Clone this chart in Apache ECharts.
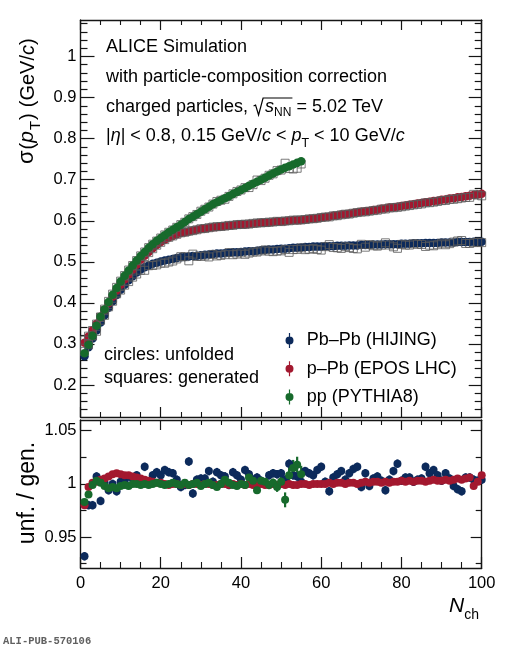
<!DOCTYPE html>
<html>
<head>
<meta charset="utf-8">
<script src="https://cdn.jsdelivr.net/npm/echarts@6/dist/echarts.min.js"></script>
<style>
  html, body { margin: 0; padding: 0; background: #fff; }
  #main { width: 506px; height: 650px; }
</style>
</head>
<body>
<div id="main"></div>
<script>
// sigma(pT) vs Nch, unfolded values (bin n = index + 1)
const pbpbUnf = [
  0.270, 0.292, 0.313, 0.333, 0.352, 0.370, 0.388, 0.404, 0.419, 0.432,
  0.444, 0.455, 0.465, 0.474, 0.481, 0.487, 0.491, 0.495, 0.498, 0.501,
  0.503, 0.505, 0.507, 0.509, 0.511, 0.512, 0.513, 0.514, 0.515, 0.516,
  0.517, 0.518, 0.519, 0.520, 0.520, 0.521, 0.522, 0.523, 0.523, 0.524,
  0.525, 0.526, 0.526, 0.527, 0.528, 0.529, 0.530, 0.530, 0.531, 0.532,
  0.532, 0.533, 0.534, 0.534, 0.535, 0.536, 0.536, 0.537, 0.537, 0.537,
  0.538, 0.538, 0.538, 0.539, 0.539, 0.539, 0.540, 0.540, 0.540, 0.541,
  0.541, 0.541, 0.542, 0.542, 0.542, 0.543, 0.543, 0.543, 0.543, 0.544,
  0.544, 0.544, 0.545, 0.545, 0.545, 0.546, 0.546, 0.546, 0.546, 0.547,
  0.547, 0.547, 0.547, 0.548, 0.548, 0.548, 0.548, 0.549, 0.549, 0.549
];
const ppbUnf = [
  0.303, 0.318, 0.333, 0.349, 0.366, 0.383, 0.399, 0.415, 0.430, 0.444,
  0.457, 0.469, 0.481, 0.493, 0.505, 0.515, 0.524, 0.533, 0.541, 0.548,
  0.554, 0.559, 0.563, 0.567, 0.570, 0.572, 0.574, 0.576, 0.578, 0.580,
  0.581, 0.583, 0.584, 0.585, 0.586, 0.587, 0.588, 0.589, 0.590, 0.591,
  0.591, 0.592, 0.593, 0.594, 0.595, 0.595, 0.596, 0.597, 0.598, 0.598,
  0.599, 0.600, 0.601, 0.601, 0.602, 0.603, 0.604, 0.605, 0.606, 0.608,
  0.609, 0.610, 0.612, 0.613, 0.615, 0.616, 0.617, 0.619, 0.620, 0.622,
  0.623, 0.624, 0.626, 0.627, 0.629, 0.630, 0.632, 0.633, 0.634, 0.636,
  0.637, 0.639, 0.640, 0.642, 0.643, 0.645, 0.646, 0.648, 0.649, 0.651,
  0.652, 0.654, 0.655, 0.657, 0.658, 0.660, 0.661, 0.663, 0.664, 0.666
];
const ppUnf = [
  0.277, 0.298, 0.320, 0.344, 0.366, 0.384, 0.402, 0.420, 0.436, 0.452,
  0.466, 0.479, 0.491, 0.503, 0.514, 0.524, 0.534, 0.543, 0.551, 0.558,
  0.565, 0.572, 0.578, 0.584, 0.590, 0.597, 0.604, 0.610, 0.616, 0.622,
  0.628, 0.634, 0.640, 0.645, 0.650, 0.655, 0.660, 0.665, 0.670, 0.675,
  0.680, 0.685, 0.690, 0.695, 0.700, 0.705, 0.710, 0.715, 0.720, 0.725,
  0.729, 0.733, 0.737, 0.741, 0.745
];

// unfolded / generated
const pbpbRatio = [
  0.932, 0.980, 0.980, 1.007, 0.984, 1.001, 0.994, 1.000, 0.993, 1.002,
  1.002, 1.007, 1.005, 1.008, 1.003, 1.016, 1.001, 1.008, 1.011, 1.008,
  1.013, 1.011, 1.010, 1.004, 0.997, 0.999, 1.021, 0.991, 1.004, 1.005,
  1.005, 1.012, 1.002, 1.011, 1.008, 1.007, 0.999, 1.011, 1.008, 1.004,
  1.013, 1.009, 1.004, 1.006, 1.003, 1.000, 1.008, 1.010, 1.009, 1.010,
  1.004, 1.019, 1.008, 1.007, 1.002, 1.012, 1.010, 1.008, 1.013, 1.016,
  1.002, 0.993, 1.006, 1.009, 1.012, 1.004, 1.010, 1.014, 1.016, 0.997,
  1.010, 0.998, 1.005, 1.007, 1.003, 0.994, 1.004, 1.012, 1.019, 1.003,
  1.006, 1.006, 1.002, 1.004, 1.005, 1.016, 1.010, 1.013, 1.008, 1.003,
  1.010, 1.005, 0.998, 0.995, 0.993, 1.006, 1.006, 1.004, 1.003, 1.004
];
const ppbRatio = [
  0.980, 0.997, 1.001, 1.002, 1.004, 1.005, 1.007, 1.009, 1.010, 1.009,
  1.008, 1.008, 1.007, 1.006, 1.005, 1.004, 1.003, 1.002, 1.001, 1.001,
  1.000, 0.999, 1.000, 1.000, 0.999, 1.000, 0.999, 1.000, 1.000, 0.999,
  1.000, 1.000, 0.999, 0.999, 1.000, 1.000, 0.999, 1.000, 0.999, 1.000,
  0.999, 1.000, 0.999, 0.999, 1.000, 0.999, 0.999, 1.000, 0.999, 1.000,
  0.999, 1.000, 0.999, 0.999, 1.000, 1.000, 0.999, 1.000, 1.000, 1.000,
  1.000, 1.001, 1.000, 1.001, 1.001, 1.000, 1.001, 1.001, 1.000, 1.001,
  1.002, 1.001, 1.002, 1.002, 1.001, 1.002, 1.001, 1.002, 1.002, 1.003,
  1.002, 1.003, 1.002, 1.003, 1.003, 1.002, 1.003, 1.004, 1.003, 1.003,
  1.004, 1.003, 1.004, 1.005, 1.004, 1.005, 1.006, 0.998, 1.002, 1.008
];
const ppRatio = [
  0.983, 0.990, 0.999, 1.003, 1.001, 0.998, 0.996, 0.997, 0.996, 0.998,
  0.999, 0.998, 1.000, 1.000, 0.999, 1.000, 0.999, 1.000, 1.001, 1.000,
  0.999, 1.000, 1.001, 1.000, 0.999, 1.001, 0.999, 1.000, 1.001, 0.998,
  1.000, 1.001, 0.999, 0.997, 1.000, 1.004, 1.001, 0.999, 0.998, 1.000,
  0.999, 1.006, 1.003, 0.994, 1.003, 1.002, 0.999, 1.001, 0.997, 1.002,
  0.985, 1.008, 1.015, 1.018, 1.009
];
// ratio uncertainties
const pbpbErr = 0.004;
const ppbErr = 0.0015;
const ppErr = [
  0.0015, 0.0015, 0.0015, 0.0015, 0.0015, 0.0015, 0.0015, 0.0015, 0.0015, 0.0015,
  0.0015, 0.0015, 0.0015, 0.0015, 0.0015, 0.0015, 0.0015, 0.0015, 0.0015, 0.0015,
  0.0015, 0.0015, 0.0015, 0.0015, 0.0015, 0.0015, 0.0015, 0.0015, 0.0015, 0.0015,
  0.0015, 0.0015, 0.0015, 0.0015, 0.0020, 0.0020, 0.0020, 0.0025, 0.0025, 0.0025,
  0.0030, 0.0030, 0.0030, 0.0035, 0.0035, 0.0035, 0.0040, 0.0040, 0.0045, 0.0050,
  0.0070, 0.0070, 0.0075, 0.0075, 0.0080
];

const names = ['Pb\u2013Pb (HIJING)', 'p\u2013Pb (EPOS LHC)', 'pp (PYTHIA8)'];
const xTicks = [0, 20, 40, 60, 80, 100];
const topTicks = [0.2, 0.3, 0.4, 0.5, 0.6, 0.7, 0.8, 0.9, 1.0];
const ratioTicks = [0.95, 1.0, 1.05];

const COL = ['#0c2a5b', '#a3182f', '#176a2c'];
const FAM = '"Liberation Sans", Arial, sans-serif';
const INK = '#151515';

// minor tick positions
const topMinor = [];
for (let k = 7; k <= 54; k++) if (k % 5 !== 0) topMinor.push(k * 0.02);
const ratioMinor = [0.925, 0.975, 1.025];

const chart = echarts.init(document.getElementById('main'), null, { renderer: 'canvas' });

function fmt(v) { return String(Math.round(v * 1000) / 1000); }

function xAx(grid, pos, major, minor, labels) {
  return {
    type: 'value', gridIndex: grid, min: xTicks[0], max: xTicks[xTicks.length - 1], interval: 20, position: pos,
    axisLine: { show: true, lineStyle: { color: INK, width: 1.4 } },
    axisTick: { show: true, inside: true, length: major, lineStyle: { color: INK, width: 1.2 } },
    minorTick: { show: true, splitNumber: 4, length: minor, lineStyle: { color: INK, width: 1.1 } },
    axisLabel: labels ? { show: true, margin: 7, fontFamily: FAM, fontSize: 16.5, color: '#000', formatter: fmt } : { show: false },
    splitLine: { show: false }, minorSplitLine: { show: false }
  };
}
function yAx(grid, min, max, pos, ticks, len, labels, line) {
  return {
    type: 'value', gridIndex: grid, min: min, max: max, position: pos,
    axisLine: { show: line, lineStyle: { color: INK, width: 1.4 } },
    axisTick: { show: true, inside: true, length: len, customValues: ticks, lineStyle: { color: INK, width: 1.2 } },
    axisLabel: labels ? { show: true, customValues: ticks, margin: 4, fontFamily: FAM, fontSize: 16.5, color: '#000', formatter: fmt } : { show: false },
    splitLine: { show: false }
  };
}

function pts(vals) { return vals.map((v, i) => [i + 1, v]); }
function gen(unf, ratio) { return unf.map((v, i) => [i + 1, v / ratio[i]]); }
function bars(ratio, err) {
  return ratio.map((v, i) => {
    const e = Array.isArray(err) ? err[i] : err;
    return [i + 1, v - e, v + e];
  });
}
function errRender(color) {
  return function (params, api) {
    const a = api.coord([api.value(0), api.value(1)]);
    const b = api.coord([api.value(0), api.value(2)]);
    return { type: 'line', shape: { x1: a[0], y1: a[1], x2: b[0], y2: b[1] }, style: { stroke: color, lineWidth: 2.2 } };
  };
}

function unfSeries(k, vals) {
  return { name: names[k], type: 'scatter', xAxisIndex: 0, yAxisIndex: 0, data: pts(vals),
    symbol: 'circle', symbolSize: 8.5, itemStyle: { color: COL[k], opacity: 1 } };
}
function genSeries(k, unf, ratio) {
  return { name: names[k] + ' gen', type: 'scatter', xAxisIndex: 0, yAxisIndex: 0, data: gen(unf, ratio),
    symbol: 'rect', symbolSize: 8, itemStyle: { color: 'rgba(0,0,0,0)', borderColor: '#5a5a5a', borderWidth: 1 } };
}
function ratioSeries(k, ratio, err) {
  return [
    { name: names[k], type: 'custom', xAxisIndex: 2, yAxisIndex: 4, data: bars(ratio, err),
      encode: { x: 0, y: [1, 2] }, renderItem: errRender(COL[k]) },
    { name: names[k], type: 'scatter', xAxisIndex: 2, yAxisIndex: 4, data: pts(ratio),
      symbol: 'circle', symbolSize: 8, itemStyle: { color: COL[k], opacity: 1 } }
  ];
}

// text runs with italics / subscripts
const meas = document.createElement('canvas').getContext('2d');
function run(parts, x0, base, size, rot) {
  let x = 0;
  const kids = [];
  const xs = [];
  parts.forEach(p => {
    if (p.gap) { xs.push(x); x += p.gap; return; }
    const fs = p.s || size;
    const font = (p.i ? 'italic ' : '') + (p.b ? 'bold ' : '') + fs + 'px ' + (p.f || FAM);
    meas.font = font;
    xs.push(x);
    kids.push({ type: 'text', x: x, y: (p.dy || 0) - fs * 0.35,
      style: { text: p.t, font: font, fill: p.c || '#000', align: 'left', verticalAlign: 'middle' } });
    x += meas.measureText(p.t).width + (p.after || 0);
  });
  xs.push(x);
  return { el: { type: 'group', x: x0, y: base, rotation: rot || 0, children: kids }, xs: xs, width: x };
}

const TS = 18;
const l1 = run([{ t: 'ALICE Simulation' }], 106, 53, TS);
const l2 = run([{ t: 'with particle-composition correction' }], 106, 83, TS);
const l3 = run([{ t: 'charged particles, ' }, { gap: 12 }, { t: 's', i: 1 }, { t: 'NN', s: 12, dy: 4 },
  { t: ' = 5.02 TeV' }], 106, 113, TS);
const l4 = run([{ t: '|' }, { t: '\u03b7', i: 1 }, { t: '| < 0.8, 0.15 GeV/' }, { t: 'c', i: 1 }, { t: ' < ' },
  { t: 'p', i: 1 }, { t: 'T', s: 12.5, dy: 6 }, { t: ' < 10 GeV/' }, { t: 'c', i: 1 }], 106, 142, TS);
const c1 = run([{ t: 'circles: unfolded' }], 104, 361, TS);
const c2 = run([{ t: 'squares: generated' }], 104, 384, TS);

// radical over s_NN
const rx = 106 + l3.xs[1];
const rEnd = 106 + l3.xs[4] + 1;
const radical = { type: 'polyline', shape: { points: [[rx + 0.5, 106], [rx + 2.5, 105], [rx + 5.5, 115], [rx + 10, 98], [rEnd, 98]] },
  style: { stroke: '#000', lineWidth: 1.2, fill: null } };

const yTitle = run([{ t: '\u03c3', s: 22, after: 1 }, { t: '(' }, { t: 'p', i: 1, s: 21, after: 1 },
  { t: 'T', s: 15, dy: 6, after: 1 }, { t: ')', after: 6 }, { t: '(GeV/' }, { t: 'c', i: 1 }, { t: ')' }],
  35, 164, 20, Math.PI / 2);
const rTitleW = run([{ t: 'unf. / gen.' }], 0, 0, 23).width;
const rTitle = run([{ t: 'unf. / gen.' }], 36, 493 + rTitleW / 2, 23, Math.PI / 2);
const xTitle = run([{ t: 'N', i: 1, s: 21 }, { t: 'ch', s: 14, dy: 6 }], 449, 614, 21);
const stamp = run([{ t: 'ALI-PUB-570106', b: 1, s: 10.5, f: '"Liberation Mono", "DejaVu Sans Mono", monospace', c: '#606060' }], 3, 645, 10.5);

const legendIcon = 'path://M3.4,0H4.6V15H3.4Z M0,7.5A4,4,0,1,1,8,7.5A4,4,0,1,1,0,7.5Z';

chart.setOption({
  animation: false,
  backgroundColor: '#fff',
  grid: [
    { left: 80.5, right: 24.3, top: 20, height: 397 },
    { left: 80.5, right: 24.3, top: 420, height: 148 }
  ],
  xAxis: [
    xAx(0, 'bottom', 10, 5, false),
    xAx(0, 'top', 10, 5, false),
    xAx(1, 'bottom', 11, 6, true),
    xAx(1, 'top', 10, 5, false)
  ],
  yAxis: [
    yAx(0, 0.122, 1.089, 'left', topTicks, 14, true, true),
    yAx(0, 0.122, 1.089, 'left', topMinor, 7, false, false),
    yAx(0, 0.122, 1.089, 'right', topTicks, 13, false, true),
    yAx(0, 0.122, 1.089, 'right', topMinor, 7, false, false),
    yAx(1, 0.921, 1.06, 'left', ratioTicks, 11, true, true),
    yAx(1, 0.921, 1.06, 'left', ratioMinor, 6, false, false),
    yAx(1, 0.921, 1.06, 'right', ratioTicks, 11, false, true),
    yAx(1, 0.921, 1.06, 'right', ratioMinor, 6, false, false)
  ],
  legend: {
    data: names, orient: 'vertical', left: 280.5, top: 326.5, itemWidth: 24.6, itemHeight: 15, itemGap: 10.2,
    icon: legendIcon, symbolKeepAspect: true, selectedMode: false,
    textStyle: { fontFamily: FAM, fontSize: TS, color: '#000' }
  },
  series: [
    unfSeries(0, pbpbUnf), genSeries(0, pbpbUnf, pbpbRatio),
    unfSeries(1, ppbUnf), genSeries(1, ppbUnf, ppbRatio),
    genSeries(2, ppUnf, ppRatio), unfSeries(2, ppUnf),
    ...ratioSeries(0, pbpbRatio, pbpbErr),
    ...ratioSeries(1, ppbRatio, ppbErr),
    ...ratioSeries(2, ppRatio, ppErr)
  ],
  graphic: [l1.el, l2.el, l3.el, l4.el, c1.el, c2.el, radical, yTitle.el, rTitle.el, xTitle.el, stamp.el]
});
</script>
</body>
</html>
